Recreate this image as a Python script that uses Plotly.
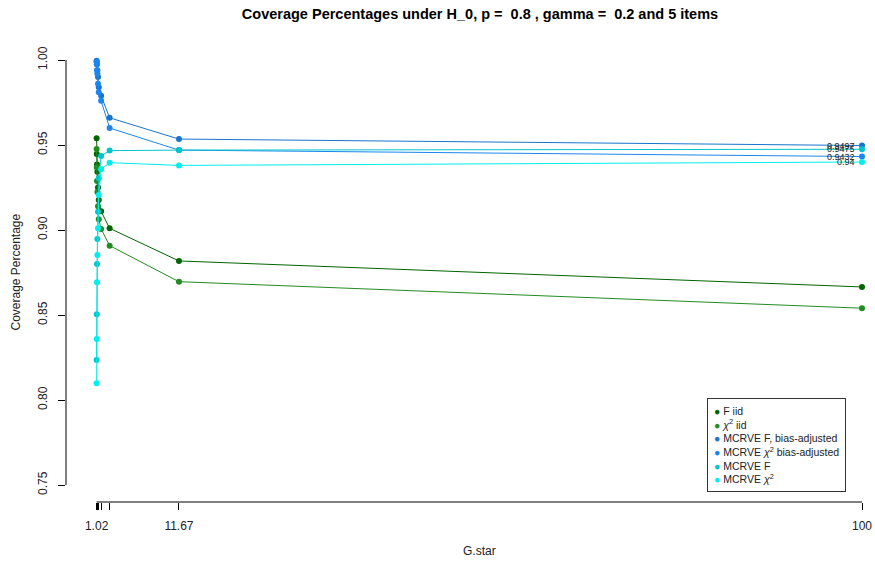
import plotly.graph_objects as go

# G.star design points (x axis)
g_star = [1.02, 1.04, 1.07, 1.12, 1.2, 1.3, 1.6, 2.7, 11.67, 100]

# coverage percentages per method
f_iid = [0.954, 0.9447, 0.9386, 0.9343, 0.925, 0.9176, 0.911, 0.901, 0.8818, 0.8665]
chi_iid = [0.9476, 0.9367, 0.9288, 0.9224, 0.914, 0.9063, 0.9006, 0.8908, 0.8696, 0.854]
mcrve_f_adj = [0.9995, 0.999, 0.9975, 0.994, 0.990, 0.984, 0.979, 0.966, 0.9535, 0.9497]
mcrve_chi_adj = [0.999, 0.9975, 0.994, 0.992, 0.986, 0.981, 0.976, 0.960, 0.947, 0.9432]
mcrve_f = [0.8235, 0.8504, 0.880, 0.8947, 0.9108, 0.9304, 0.9435, 0.9467, 0.947, 0.9475]
mcrve_chi = [0.8098, 0.8359, 0.8692, 0.8853, 0.901, 0.9206, 0.9357, 0.9396, 0.938, 0.94]

series = [
    ("F iid", f_iid, "#006400", False),
    ("<i>χ</i><sup>2</sup> iid", chi_iid, "#228B22", False),
    ("MCRVE F, bias-adjusted", mcrve_f_adj, "#1874CD", True),
    ("MCRVE <i>χ</i><sup>2</sup> bias-adjusted", mcrve_chi_adj, "#1C86EE", True),
    ("MCRVE F", mcrve_f, "#00C5CD", True),
    ("MCRVE <i>χ</i><sup>2</sup>", mcrve_chi, "#00EEEE", True),
]

y_ticks = [0.75, 0.80, 0.85, 0.90, 0.95, 1.00]

FONT = "Liberation Sans, Arial, sans-serif"

fig = go.Figure()
for name, vals, col, _ in series:
    fig.add_trace(go.Scatter(
        x=g_star, y=vals, mode="lines+markers", name=name, showlegend=False,
        line=dict(color=col, width=1),
        marker=dict(color=col, size=6),
    ))

# end-of-line value labels
for name, vals, col, labelled in series:
    if labelled:
        fig.add_annotation(
            x=g_star[-1], y=vals[-1], xref="x", yref="y",
            text=f"{round(vals[-1], 4):g}", showarrow=False,
            xanchor="right", yanchor="middle", xshift=-5,
            font=dict(family=FONT, size=9, color="#222222"),
        )

# compact point-only key in the lower right corner
key_lines = [
    f'<span style="color:{col}">●</span> {name}' for name, _, col, _ in series
]
fig.add_annotation(
    text="<br>".join(key_lines), xref="paper", yref="paper",
    x=(707 - 66) / 809, y=(502 - 398) / 459, xanchor="left", yanchor="top",
    showarrow=False, align="left", bgcolor="white",
    bordercolor="#333333", borderwidth=1, borderpad=6,
    font=dict(family=FONT, size=10.5, color="#222222"),
)

# x tick labels: drop labels that would collide with the previous one
tick_text = []
last_kept = None
for v in g_star:
    if last_kept is None or v - last_kept > 5:
        tick_text.append(f"{round(v, 2):g}")
        last_kept = v
    else:
        tick_text.append("")

x_lo = min(g_star) - 0.04 * (max(g_star) - min(g_star))
x_range = [x_lo, x_lo + 104.62]

# axis lines spanning first to last tick
fig.add_shape(type="line", xref="paper", yref="y", x0=0, x1=0,
              y0=y_ticks[0], y1=y_ticks[-1], line=dict(color="black", width=1))
fig.add_shape(type="line", xref="x", yref="paper", x0=min(g_star), x1=max(g_star),
              y0=0, y1=0, line=dict(color="black", width=1))

fig.add_annotation(text="G.star", xref="paper", yref="paper", x=0.5115, y=-0.107,
                   showarrow=False, xanchor="center", yanchor="middle",
                   font=dict(family=FONT, size=12, color="#222222"))
fig.add_annotation(text="Coverage Percentage", xref="paper", yref="paper", x=-0.063, y=0.5,
                   showarrow=False, textangle=-90, xanchor="center", yanchor="middle",
                   font=dict(family=FONT, size=12, color="#222222"))

fig.update_layout(
    width=875, height=564,
    margin=dict(l=66, r=0, t=43, b=62),
    paper_bgcolor="white", plot_bgcolor="white",
    title=dict(text="<b>Coverage Percentages under H_0, p = \u00a00.8 , gamma = \u00a00.2 and 5 items</b>",
               x=480 / 875, xanchor="center", y=1 - 14 / 564, yanchor="middle",
               font=dict(family=FONT, size=14.5, color="black")),
    font=dict(family=FONT, size=12, color="#222222"),
    showlegend=False,
    xaxis=dict(range=x_range, tickmode="array", tickvals=g_star, ticktext=tick_text,
               ticks="outside", ticklen=7, tickcolor="black", tickwidth=1,
               showgrid=False, zeroline=False, showline=False,
               ticklabelstandoff=6,
               tickfont=dict(family=FONT, size=12, color="#222222")),
    yaxis=dict(range=[0.74, 1.01], tickmode="array", tickvals=y_ticks,
               ticktext=[f"{v:.2f}" for v in y_ticks], tickangle=-90,
               ticks="outside", ticklen=7, tickcolor="black", tickwidth=1,
               showgrid=False, zeroline=False, showline=False,
               ticklabelstandoff=6,
               tickfont=dict(family=FONT, size=12, color="#222222")),
)

fig.write_html("out.html")
